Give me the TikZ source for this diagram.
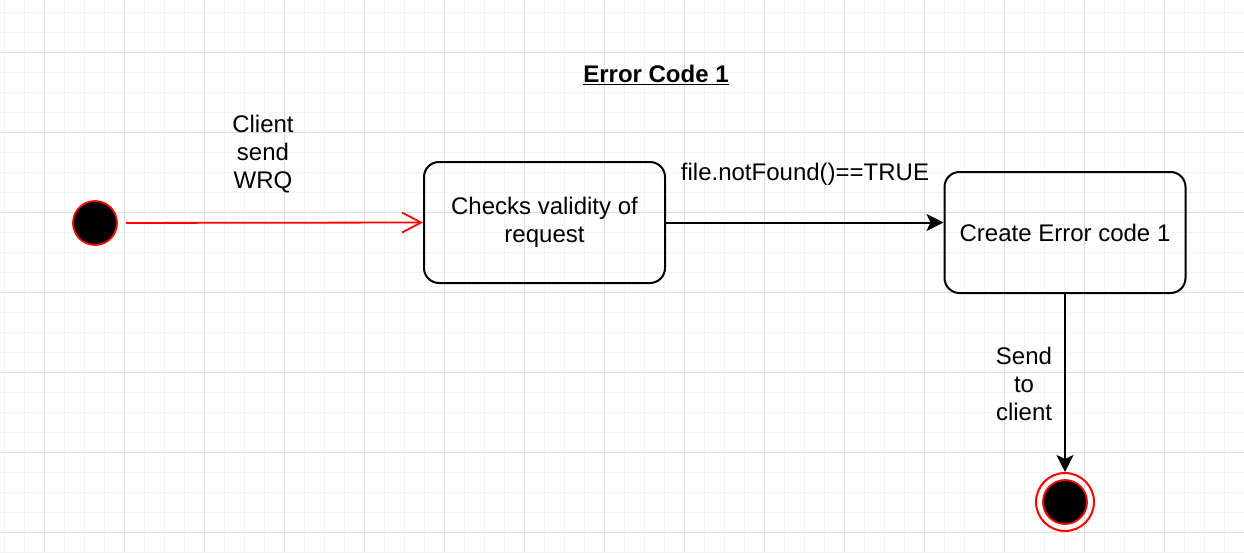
\documentclass[tikz,border=0pt]{standalone}
\usepackage{fontspec}
\setmainfont{Liberation Sans}
\usetikzlibrary{arrows.meta,calc}
\definecolor{gridminor}{HTML}{F3F3F3}
\definecolor{gridmajor}{HTML}{DCDCDC}
\definecolor{umlred}{HTML}{FF0000}

\begin{document}
\begin{tikzpicture}[x=1pt,y=-1pt,font=\fontsize{24}{28}\selectfont,
  minorline/.style={gridminor,line width=1pt},
  majorline/.style={gridmajor,line width=1pt},
  statebox/.style={draw,line width=2pt,rounded corners=15pt,minimum width=241pt,minimum height=121pt,align=center,inner sep=0pt},
  initstate/.style={circle,fill=black,draw=umlred,line width=1.8pt,minimum size=44pt,inner sep=0pt},
  finalring/.style={circle,draw=umlred,line width=2pt,minimum size=58pt,inner sep=0pt},
  redflow/.style={umlred,line width=1.8pt,-{Straight Barb[length=19pt,width=20pt,line width=1.8pt]}},
  flow/.style={line width=2pt,-{Stealth[length=17pt,width=17pt,inset=4pt]}},
  lbl/.style={align=center,inner sep=0pt}]
\useasboundingbox (0,0) rectangle (1244,552);
%grid
\fill[white] (0,0) rectangle (1244,552);
\foreach \x in {4,24,...,1244} \draw[minorline] (\x,0) -- (\x,552);
\foreach \y in {12,32,...,552} \draw[minorline] (0,\y) -- (1244,\y);
\foreach \x in {44,124,...,1244} \draw[majorline] (\x,0) -- (\x,552);
\foreach \y in {52,132,...,552} \draw[majorline] (0,\y) -- (1244,\y);
%title
\node[lbl,font=\fontsize{24}{28}\selectfont\bfseries] (title) at (656,75) {\underline{Error Code 1}};
%states
\node[initstate] (start) at (95,223) {};
\node[statebox] (check) at (544.5,222.5) {Checks validity of\\request};
\node[statebox] (create) at (1065,232.5) {Create Error code 1};
\node[finalring] (stop) at (1065,502) {};
\node[initstate] (stopin) at (stop) {};
%transitions
\draw[redflow,shorten <=8pt] (start) -- (check.west);
\draw[flow] (check.east) -- (check.east -| create.west);
\draw[flow] (create.south) -- (stop.north);
%labels
\node[lbl] (wrq) at (263,154) {Client\\send\\WRQ};
\node[lbl] (guard) at (805,174) {file.notFound()==TRUE};
\node[lbl] (send) at (1024,384) {Send\\to\\client};
\end{tikzpicture}
\end{document}
